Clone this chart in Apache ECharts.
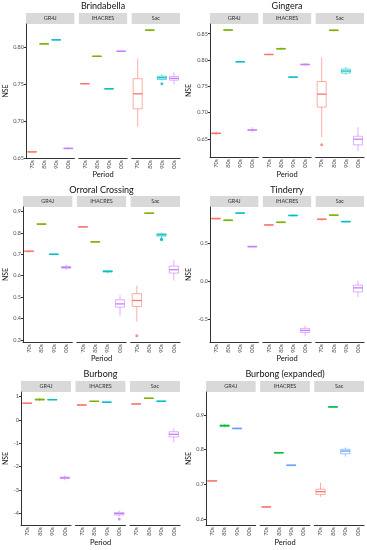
<!DOCTYPE html>
<html><head><meta charset="utf-8">
<script src="https://cdn.jsdelivr.net/npm/echarts@6/dist/echarts.min.js"></script>
<style>html,body{margin:0;padding:0;background:#fff}#c{width:367px;height:550px}</style>
</head><body><div id="c"></div>
<script>
// ---------- DATA ----------
const periods = ['70s', '80s', '90s', '00s'];
const models = ['GR4J', 'IHACRES', 'Sac'];
const panelTitles = ['Brindabella', 'Gingera', 'Orroral Crossing', 'Tinderry', 'Burbong', 'Burbong (expanded)'];
const colors4 = ['#F8766D', '#7CAE00', '#00BFC4', '#C77CFF'];
const colors3 = ['#F8766D', '#00BA38', '#619CFF'];

// each row: [min, Q1, median, Q3, max] for 70s, 80s, 90s, 00s
const brindabellaGR4J = [[0.6574,0.6577,0.658,0.6583,0.6586],[0.8039,0.8042,0.8045,0.8048,0.8051],[0.8094,0.8097,0.81,0.8103,0.8106],[0.6612,0.6623,0.6627,0.6631,0.6642]];
const brindabellaIHACRES = [[0.7499,0.7502,0.7505,0.7508,0.7511],[0.7871,0.7874,0.7877,0.788,0.7883],[0.743,0.7433,0.7436,0.7439,0.7442],[0.7939,0.7942,0.7945,0.7948,0.7951]];
const brindabellaSac = [[0.6923,0.7164,0.7368,0.7573,0.7845],[0.8215,0.8228,0.8232,0.8236,0.8245],[0.755,0.7562,0.7586,0.7606,0.7632],[0.7495,0.7553,0.7577,0.7602,0.766]];
const brindabellaOutliers = [[2,2,0.7505]]; // [model, period, value]

const gingeraGR4J = [[0.657,0.6598,0.6605,0.6612,0.664],[0.856,0.8563,0.857,0.8577,0.858],[0.796,0.7962,0.7966,0.797,0.7972],[0.662,0.666,0.6668,0.6676,0.672]];
const gingeraIHACRES = [[0.81,0.8101,0.8105,0.8109,0.811],[0.819,0.8207,0.8214,0.8221,0.8238],[0.7668,0.767,0.7674,0.7678,0.768],[0.789,0.7908,0.7915,0.7922,0.794]];
const gingeraSac = [[0.6532,0.7104,0.7351,0.7591,0.8049],[0.8545,0.8558,0.8565,0.8572,0.8585],[0.7719,0.7751,0.779,0.7827,0.7866],[0.627,0.6386,0.6494,0.655,0.6722]];
const gingeraOutliers = [[2,0,0.6389]];

const orroralGR4J = [[0.708,0.7125,0.714,0.7155,0.72],[0.837,0.8395,0.841,0.8425,0.845],[0.698,0.6985,0.7,0.7015,0.702],[0.626,0.635,0.639,0.643,0.651]];
const orroralIHACRES = [[0.826,0.8265,0.828,0.8295,0.83],[0.756,0.7565,0.758,0.7595,0.76],[0.61,0.617,0.62,0.623,0.627],[0.412,0.453,0.468,0.487,0.509]];
const orroralSac = [[0.385,0.456,0.484,0.516,0.553],[0.889,0.8905,0.892,0.8935,0.895],[0.776,0.785,0.791,0.796,0.80],[0.577,0.612,0.628,0.645,0.673]];
const orroralOutliers = [[2,0,0.319],[2,2,0.772],[2,2,0.768]];

const tinderryGR4J = [[0.823,0.825,0.83,0.835,0.837],[0.795,0.803,0.808,0.813,0.821],[0.895,0.897,0.902,0.907,0.909],[0.453,0.455,0.46,0.465,0.467]];
const tinderryIHACRES = [[0.739,0.741,0.746,0.751,0.753],[0.774,0.776,0.781,0.786,0.788],[0.856,0.866,0.871,0.876,0.886],[-0.719,-0.674,-0.647,-0.62,-0.585]];
const tinderrySac = [[0.80,0.816,0.821,0.826,0.83],[0.86,0.87,0.875,0.88,0.89],[0.783,0.785,0.79,0.795,0.797],[-0.205,-0.138,-0.085,-0.049,0.009]];
const tinderryOutliers = [];

const burbongGR4J = [[0.695,0.70,0.71,0.72,0.725],[0.79,0.845,0.868,0.89,0.94],[0.845,0.85,0.861,0.872,0.877],[-2.59,-2.51,-2.48,-2.45,-2.37]];
const burbongIHACRES = [[0.62,0.625,0.635,0.645,0.65],[0.776,0.781,0.791,0.801,0.806],[0.74,0.745,0.755,0.765,0.77],[-4.13,-4.07,-4.01,-3.96,-3.89]];
const burbongSac = [[0.665,0.67,0.68,0.69,0.695],[0.908,0.913,0.923,0.933,0.938],[0.78,0.785,0.795,0.805,0.81],[-0.96,-0.73,-0.62,-0.51,-0.37]];
const burbongOutliers = [[1,3,-4.24]];

// expanded view: 70s, 80s, 90s only
const expandedGR4J = [[0.7085,0.709,0.71,0.711,0.7115],[0.864,0.867,0.869,0.871,0.873],[0.8595,0.86,0.861,0.862,0.8625]];
const expandedIHACRES = [[0.6335,0.634,0.635,0.636,0.6365],[0.7895,0.79,0.791,0.792,0.7925],[0.7535,0.754,0.755,0.756,0.7565]];
const expandedSac = [[0.664,0.671,0.679,0.686,0.705],[0.9215,0.922,0.923,0.924,0.9245],[0.78,0.788,0.796,0.801,0.806]];
const expandedOutliers = [];

// y-axis ranges and ticks
const yRanges = [[0.6497,0.8315],[0.6155,0.8685],[0.290,0.921],[-0.80,0.983],[-4.50,1.19],[0.583,0.966]];
const ticks1 = [0.65,0.70,0.75,0.80];           const tickLabels1 = ['0.65','0.70','0.75','0.80'];
const ticks2 = [0.65,0.70,0.75,0.80,0.85];      const tickLabels2 = ['0.65','0.70','0.75','0.80','0.85'];
const ticks3 = [0.3,0.4,0.5,0.6,0.7,0.8,0.9];   const tickLabels3 = ['0.3','0.4','0.5','0.6','0.7','0.8','0.9'];
const ticks4 = [-0.5,0,0.5];                    const tickLabels4 = ['-0.5','0.0','0.5'];
const ticks5 = [-4,-3,-2,-1,0,1];               const tickLabels5 = ['-4','-3','-2','-1','0','1'];
const ticks6 = [0.6,0.7,0.8,0.9];               const tickLabels6 = ['0.6','0.7','0.8','0.9'];

// ---------- ASSEMBLY ----------
const panels = [
  {boxes:[brindabellaGR4J,brindabellaIHACRES,brindabellaSac], out:brindabellaOutliers, colors:colors4, ticks:ticks1, labels:tickLabels1},
  {boxes:[gingeraGR4J,gingeraIHACRES,gingeraSac], out:gingeraOutliers, colors:colors4, ticks:ticks2, labels:tickLabels2},
  {boxes:[orroralGR4J,orroralIHACRES,orroralSac], out:orroralOutliers, colors:colors4, ticks:ticks3, labels:tickLabels3},
  {boxes:[tinderryGR4J,tinderryIHACRES,tinderrySac], out:tinderryOutliers, colors:colors4, ticks:ticks4, labels:tickLabels4},
  {boxes:[burbongGR4J,burbongIHACRES,burbongSac], out:burbongOutliers, colors:colors4, ticks:ticks5, labels:tickLabels5},
  {boxes:[expandedGR4J,expandedIHACRES,expandedSac], out:expandedOutliers, colors:colors3, ticks:ticks6, labels:tickLabels6}
];
const geom = [
  {x0:26, x1:180, top:24, bottom:158, titleY:6, periodY:175, nseX:6},
  {x0:210, x1:364, top:24, bottom:157, titleY:6, periodY:175, nseX:189},
  {x0:23, x1:180, top:207, bottom:342, titleY:190, periodY:359, nseX:6},
  {x0:210, x1:364, top:207, bottom:342, titleY:190, periodY:359, nseX:189},
  {x0:21, x1:180, top:392, bottom:525, titleY:374, periodY:543, nseX:6},
  {x0:206, x1:364, top:392, bottom:525, titleY:374, periodY:543, nseX:189}
];
const FONT = 'Lato';
const GAP = 4.5, STRIP = 11;

function rgba(hex, a) {
  const n = parseInt(hex.slice(1), 16);
  return 'rgba(' + (n >> 16) + ',' + ((n >> 8) & 255) + ',' + (n & 255) + ',' + a + ')';
}

const grids = [], xAxes = [], yAxes = [], series = [], graphics = [];

panels.forEach((P, p) => {
  const g = geom[p];
  const fw = (g.x1 - g.x0 - 2 * GAP) / 3;
  graphics.push({type:'text', x:(g.x0 + g.x1) / 2, y:g.titleY, style:{text:panelTitles[p], font:'9px ' + FONT, fill:'#111', align:'center', verticalAlign:'middle'}});
  graphics.push({type:'text', x:(g.x0 + g.x1) / 2, y:g.periodY, style:{text:'Period', font:'7.5px ' + FONT, fill:'#111', align:'center', verticalAlign:'middle'}});
  graphics.push({type:'text', x:g.nseX, y:(g.top + g.bottom) / 2, rotation:Math.PI / 2, style:{text:'NSE', font:'7px ' + FONT, fill:'#111', align:'center', verticalAlign:'middle'}});
  models.forEach((m, f) => {
    const k = grids.length;
    const left = g.x0 + f * (fw + GAP);
    grids.push({left:left, top:g.top, width:fw, height:g.bottom - g.top, containLabel:false});
    graphics.push({type:'rect', shape:{x:left, y:g.top - STRIP, width:fw, height:STRIP}, style:{fill:'#D9D9D9'}});
    graphics.push({type:'text', x:left + fw / 2, y:g.top - STRIP / 2, style:{text:m, font:'5.5px ' + FONT, fill:'#333', align:'center', verticalAlign:'middle'}});
    xAxes.push({
      type:'category', gridIndex:k, data:periods,
      axisLine:{onZero:false, lineStyle:{color:'#333', width:1}},
      axisTick:{alignWithLabel:true, length:2, lineStyle:{color:'#333'}},
      axisLabel:{rotate:90, fontSize:5.5, fontFamily:FONT, color:'#4d4d4d', margin:2}
    });
    const ticks = P.ticks, labels = P.labels;
    yAxes.push({
      type:'value', gridIndex:k, min:yRanges[p][0], max:yRanges[p][1],
      show: f === 0,
      splitLine:{show:false},
      axisLine:{show:true, onZero:false, lineStyle:{color:'#333', width:1}},
      axisTick:{show:true, length:2, customValues:ticks, lineStyle:{color:'#333'}},
      axisLabel:{fontSize:5.5, fontFamily:FONT, color:'#4d4d4d', margin:2, customValues:ticks,
        formatter: v => { let bi = 0; ticks.forEach((t, i) => { if (Math.abs(t - v) < Math.abs(ticks[bi] - v)) bi = i; }); return labels[bi]; }}
    });
    const cols = P.colors;
    series.push({
      type:'custom', xAxisIndex:k, yAxisIndex:k, z:3,
      data: P.boxes[f].map((r, i) => [i].concat(r)),
      encode:{x:0, y:[1,2,3,4,5]},
      renderItem: (params, api) => {
        const xi = api.value(0);
        const pts = [1,2,3,4,5].map(d => api.coord([xi, api.value(d)]));
        const cx = pts[0][0];
        const w = api.size([1, 0])[0] * 0.75;
        const col = cols[xi], light = rgba(cols[xi], 0.6);
        return {type:'group', children:[
          {type:'line', shape:{x1:cx, y1:pts[0][1], x2:cx, y2:pts[1][1]}, style:{stroke:light, lineWidth:1}},
          {type:'line', shape:{x1:cx, y1:pts[3][1], x2:cx, y2:pts[4][1]}, style:{stroke:light, lineWidth:1}},
          {type:'rect', shape:{x:cx - w / 2, y:pts[3][1], width:w, height:Math.max(pts[1][1] - pts[3][1], 0.01)}, style:{fill:'#fff', stroke:light, lineWidth:1}},
          {type:'line', shape:{x1:cx - w / 2, y1:pts[2][1], x2:cx + w / 2, y2:pts[2][1]}, style:{stroke:col, lineWidth:1.3}}
        ]};
      }
    });
    const outs = P.out.filter(o => o[0] === f);
    if (outs.length) {
      series.push({
        type:'scatter', xAxisIndex:k, yAxisIndex:k, z:4, symbolSize:3,
        data: outs.map(o => ({value:[o[1], o[2]], itemStyle:{color:cols[o[1]]}}))
      });
    }
  });
});

const chart = echarts.init(document.getElementById('c'), null, {renderer:'canvas'});
chart.setOption({
  backgroundColor:'#fff',
  animation:false,
  grid:grids, xAxis:xAxes, yAxis:yAxes, series:series,
  graphic:{elements:graphics}
});
</script></body></html>
